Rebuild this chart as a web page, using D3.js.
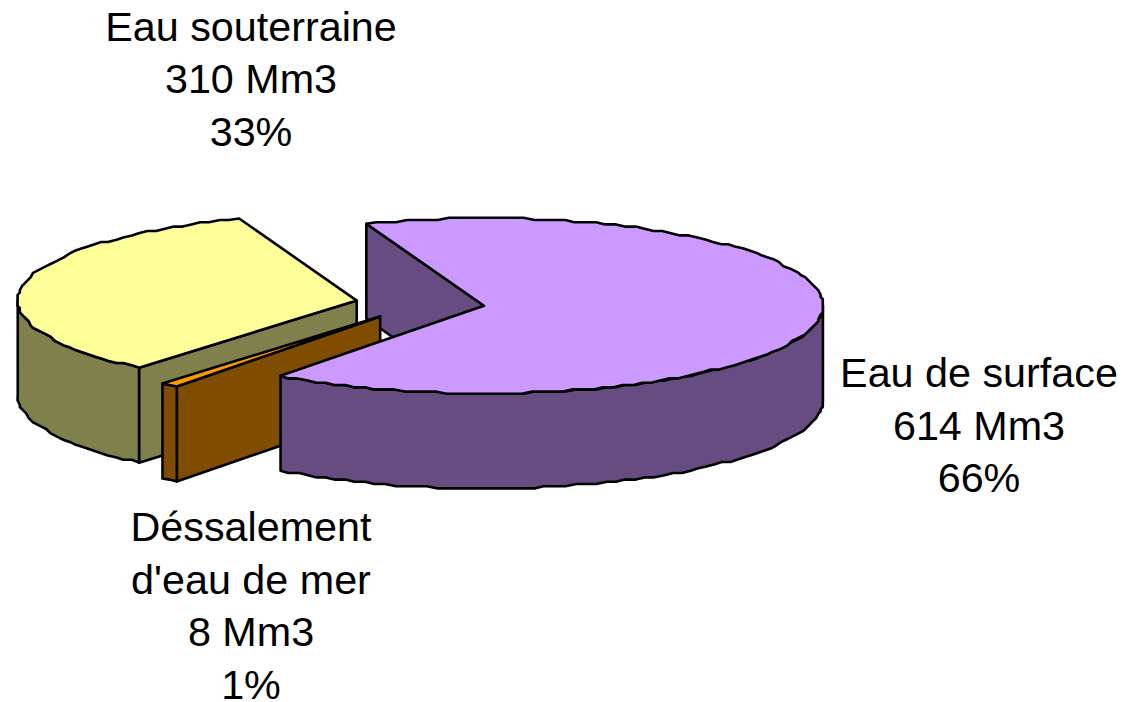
<!DOCTYPE html>
<html>
<head>
<meta charset="utf-8">
<style>
  html, body { margin: 0; padding: 0; background: #fff; overflow: hidden; }
  text { font-family: "Liberation Sans", Arial, sans-serif; font-size: 41.3px; fill: #000; text-anchor: middle; }
</style>
<script src="https://cdnjs.cloudflare.com/ajax/libs/d3/7.8.5/d3.min.js"></script>
</head>
<body>
<div id="pie"></div>
<script>
	var categories = ["Eau de surface", "Déssalement d'eau de mer", "Eau souterraine"];
	var volumes = [614, 8, 310];
	var percents = [66, 1, 33];
	var labelLines = [
		["Eau de surface"],
		["Déssalement", "d'eau de mer"],
		["Eau souterraine"]
	];
	var topColors = ["#CC99FF", "#FF9900", "#FFFF99"];
	var sideColors = ["#664C80", "#804C00", "#80804C"];

	var width = 1131, height = 702;
	var cx = 420.2, cy = 303.4, rx = 339, ry = 87.5, depth = 95, explode = 0.19;
	var firstAngle = -20.3 * Math.PI / 180;
	var labelPos = [{x: 979, y: 387}, {x: 251, y: 541}, {x: 251, y: 40.5}];
	var lineHeight = 52.7;

	//Creating the SVG canvas
	var svg = d3.select("#pie").append("svg")
		.attr("width", width)
		.attr("height", height)
		.style("display", "block");

	var slices = d3.pie().sort(null)
		.startAngle(firstAngle)
		.endAngle(firstAngle + 2 * Math.PI)(volumes);

	var x = d3.scaleLinear().domain([-1, 1]).range([cx - rx, cx + rx]);
	var y = d3.scaleLinear().domain([-1, 1]).range([cy - ry, cy + ry]);

	// one slice's center, pushed out along its middle angle
	function centerOf(d) {
		var mid = (d.startAngle + d.endAngle) / 2;
		return [explode * Math.sin(mid), -explode * Math.cos(mid)];
	}

	function point(d, a, drop) {
		var c = centerOf(d);
		return [x(c[0] + Math.sin(a)), y(c[1] - Math.cos(a)) + drop];
	}

	function apex(d, drop) {
		var c = centerOf(d);
		return [x(c[0]), y(c[1]) + drop];
	}

	// the rim of the original is a rough polyline, snapped on a coarse grid
	var grid = 2.2, step = 1.8 * Math.PI / 180;
	function rim(d, a0, a1, drop) {
		var n = Math.max(1, Math.round((a1 - a0) / step));
		return d3.range(n + 1).map(function(i) {
			var p = point(d, a0 + (a1 - a0) * i / n, drop);
			if (i == 0 || i == n) return p;
			return [Math.round(p[0] / grid) * grid, Math.round(p[1] / grid) * grid];
		});
	}

	var line = d3.line();
	var back = Math.PI / 2, front = 3 * Math.PI / 2;

	function startWall(d) {
		return line([apex(d, 0), point(d, d.startAngle, 0), point(d, d.startAngle, depth), apex(d, depth)]) + "Z";
	}
	function outerWall(d) {
		var a0 = Math.max(d.startAngle, back), a1 = Math.min(d.endAngle, front);
		return line(rim(d, a0, a1, 0).concat(rim(d, a0, a1, depth).reverse())) + "Z";
	}
	function topFace(d) {
		return line([apex(d, 0)].concat(rim(d, d.startAngle, d.endAngle, 0))) + "Z";
	}

	// back to front: the surface slice's inner wall sits behind the two other slices
	var layers = [
		{slice: slices[0], shape: startWall, colors: sideColors},
		{slice: slices[2], shape: startWall, colors: sideColors},
		{slice: slices[2], shape: outerWall, colors: sideColors},
		{slice: slices[2], shape: topFace, colors: topColors},
		{slice: slices[1], shape: startWall, colors: sideColors},
		{slice: slices[1], shape: outerWall, colors: sideColors},
		{slice: slices[1], shape: topFace, colors: topColors},
		{slice: slices[0], shape: outerWall, colors: sideColors},
		{slice: slices[0], shape: topFace, colors: topColors}
	];

	svg.selectAll(".face")
		.data(layers)
		.enter().append("path")
		.attr("class", "face")
		.attr("stroke", "#000")
		.attr("stroke-width", 2.6)
		.attr("stroke-linejoin", "round")
		.attr("fill", function(l) { return l.colors[l.slice.index]; })
		.attr("d", function(l) { return l.shape(l.slice); });

	// labels
	var labels = svg.selectAll(".label")
		.data(categories)
		.enter().append("text")
		.attr("class", "label")
		.attr("aria-label", function(d) { return d; });

	labels.selectAll("tspan")
		.data(function(d, i) {
			var rows = labelLines[i].concat([volumes[i] + " Mm3", percents[i] + "%"]);
			return rows.map(function(t, k) { return {text: t, i: i, k: k}; });
		})
		.enter().append("tspan")
		.attr("x", function(d) { return labelPos[d.i].x; })
		.attr("y", function(d) { return labelPos[d.i].y + d.k * lineHeight; })
		.text(function(d) { return d.text; });
</script>
</body>
</html>
